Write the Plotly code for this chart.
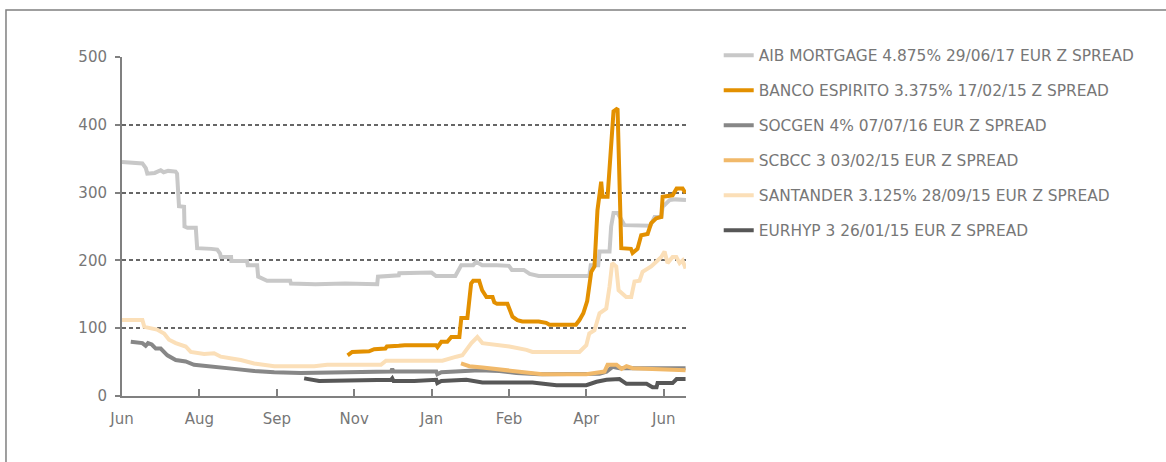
import plotly.graph_objects as go

# x = trading days from start of window, y = Z spread (bp)
tick_days = [0, 52, 104, 156, 208, 260, 312, 364]
tick_labels = ['Jun', 'Aug', 'Sep', 'Nov', 'Jan', 'Feb', 'Apr', 'Jun']

aib_x = [0, 13.7, 16, 17, 22, 24, 26, 28, 31, 36, 37, 38.3, 41.7, 42, 44, 49.6, 50.5, 60, 64, 65.9, 66.4,
         73.3, 73.5, 84, 84.5, 90.8, 91.5, 97.5, 113, 113.5, 130, 150, 165, 171.5, 172, 186, 186.3, 200,
         208, 211, 224, 228, 236, 238, 242, 252, 260, 262, 270, 274, 280, 300, 314, 315, 320, 320.9,
         327.6, 328.7, 330.3, 333, 337.7, 355, 357.9, 362.4, 363.3, 368, 372, 379]
aib_y = [345, 343, 336, 328, 329, 331, 333, 330, 332, 331, 328, 280, 279, 250, 248, 248, 218, 217, 216, 210, 205,
         205, 199, 199, 193, 193, 176, 170, 170, 166, 165, 166, 165, 165, 176, 178, 181, 182,
         182, 177, 177, 193, 193, 198, 193, 193, 192, 186, 186, 180, 177, 177, 177, 193, 193, 213,
         213, 250, 270, 270, 252, 251, 264, 264, 279, 289, 290, 289]

banco_x = [151.6, 154.7, 166, 169.5, 177, 178, 186, 190, 211, 212, 214.6, 218.6, 221.3, 226.7, 228, 232.1,
           234.6, 236, 240, 242, 244.9, 249, 250.2, 252, 259, 262.4, 265.7, 269, 280, 285, 287.3, 305,
           307.4, 310, 312.6, 315.3, 317.5, 319.5, 322, 322.9, 326.3, 328.7, 330.3, 333, 334.3, 335.5,
           342, 343.1, 346.4, 348.9, 353.2, 355.6, 359, 362.4, 363.3, 370, 372.7, 376.7, 378.7]
banco_y = [60, 65, 66, 69, 70, 73, 74, 75, 75, 72, 80, 80, 87, 87, 115, 115,
           166, 170, 170, 156, 146, 146, 138, 136, 136, 117, 112, 110, 110, 108, 105, 105,
           112, 122, 140, 183, 191, 274, 316, 294, 294, 368, 420, 424, 314, 218,
           217, 211, 217, 237, 239, 255, 262, 264, 294, 296, 306, 306, 299]

socgen_x = [5.9, 13.7, 15.9, 17.5, 20, 22.7, 26, 30.5, 36.1, 42.8, 48.4, 59.7, 70.6, 75.3, 88.8, 102.3,
            120.2, 151.6, 180.8, 181.6, 182.5, 211.2, 211.9, 214.6, 231.4, 240.2, 253.6, 265, 280.5,
            320.9, 325.6, 329.6, 334.3, 378.7]
socgen_y = [80, 78, 74, 78, 76, 70, 70, 60, 53, 51, 46, 43, 41, 40, 37, 35,
            34, 35, 36, 40, 36, 36, 32, 35, 36, 38, 37, 34, 32,
            33, 36, 43, 41, 41]

scbcc_x = [227.8, 233.4, 242.2, 253.6, 260.3, 271.8, 282.5, 312, 320.9, 324.2, 326.3, 332.3, 335.7, 339,
           343.1, 378.7]
scbcc_y = [48, 44, 42, 39, 37, 35, 32, 32, 36, 36, 46, 46, 40, 44, 41, 38]

sant_x = [0, 13.7, 15, 23.5, 28.3, 31.6, 36.1, 42.8, 46.2, 55.2, 61.9, 66.4, 79.8, 88.8, 102.3, 129.2,
          137.9, 174, 177.4, 196.4, 211.2, 215.3, 224.7, 228.7, 234.8, 238.8, 242.2, 253.6, 260.3, 271.8,
          275.8, 307.4, 312, 314, 317.5, 320.9, 325.4, 327.6, 329.4, 332.1, 333.7, 338.8, 342.2, 344.4,
          347.8, 349.8, 355.6, 359, 362.4, 364.6, 366.6, 370, 372.5, 374.7, 376.7, 378.7]
sant_y = [112, 112, 102, 98, 92, 83, 78, 73, 65, 62, 63, 58, 53, 48, 44, 44,
          46, 46, 52, 52, 51, 52, 58, 60, 78, 87, 78, 75, 73, 68,
          65, 65, 75, 92, 97, 122, 129, 161, 196, 191, 156, 146, 146, 169,
          170, 183, 191, 198, 205, 213, 196, 205, 205, 196, 200, 188]

eurhyp_x = [122.4, 130.3, 132.5, 180.8, 181.6, 182.5, 196.4, 211.2, 211.9, 214.6, 231.4, 242.2, 275.8,
            292, 312, 318.9, 325.6, 334.3, 339, 352.5, 356.5, 359.2, 359.9, 370, 372.7, 378.7]
eurhyp_y = [26, 24, 22, 24, 26, 22, 22, 24, 19, 22, 24, 20, 20,
            16, 16, 21, 24, 25, 18, 18, 13, 13, 19, 19, 25, 25]

# (name, x, y, colour, legend position) - drawn in this order
series = [
    ('AIB MORTGAGE 4.875% 29/06/17 EUR Z SPREAD', aib_x, aib_y, '#c8c8c8', 1),
    ('SANTANDER 3.125% 28/09/15 EUR Z SPREAD', sant_x, sant_y, '#fbdfb8', 5),
    ('SOCGEN 4% 07/07/16 EUR Z SPREAD', socgen_x, socgen_y, '#878787', 3),
    ('EURHYP 3 26/01/15 EUR Z SPREAD', eurhyp_x, eurhyp_y, '#575757', 6),
    ('SCBCC 3 03/02/15 EUR Z SPREAD', scbcc_x, scbcc_y, '#f1b96a', 4),
    ('BANCO ESPIRITO 3.375% 17/02/15 Z SPREAD', banco_x, banco_y, '#e39000', 2),
]

fig = go.Figure()
for name, xs, ys, col, rank in series:
    fig.add_trace(go.Scatter(x=xs, y=ys, name=name, mode='lines', legendgroup=name, legendrank=rank,
                             line=dict(color=col, width=4)))

# outer frame of the chart
fig.add_shape(type='rect', xref='paper', yref='paper', x0=-0.2057, x1=1.9, y0=-0.25, y1=1.1386,
              line=dict(color='#808080', width=1.5), fillcolor='rgba(0,0,0,0)', layer='below')

fig.update_layout(
    width=1166, height=462,
    margin=dict(l=122, r=480, t=57, b=66),
    plot_bgcolor='white', paper_bgcolor='white',
    font=dict(family='DejaVu Sans', size=15, color='#777777'),
    showlegend=True,
    legend=dict(x=1.058, y=1.054, xanchor='left', yanchor='top', traceorder='grouped', tracegroupgap=12,
                font=dict(size=15.4, color='#777777'), bgcolor='rgba(0,0,0,0)'),
)
fig.update_xaxes(range=[0, 379], tickvals=tick_days, ticktext=tick_labels, showgrid=False,
                 showline=True, linecolor='#808080', linewidth=2, ticks='inside', ticklen=7,
                 tickcolor='#808080', tickwidth=1.5, zeroline=False, ticklabelstandoff=8)
fig.update_yaxes(range=[0, 500], tickvals=[0, 100, 200, 300, 400, 500], showgrid=True,
                 gridcolor='#666666', griddash='4px,3px', gridwidth=1.5, showline=True, linecolor='#808080',
                 linewidth=2, ticks='outside', ticklen=5, tickcolor='#808080', tickwidth=1.5, zeroline=False,
                 ticklabelstandoff=5)

fig.write_html('out.html', config={'displayModeBar': False}, post_script="document.body.style.margin='0';")
